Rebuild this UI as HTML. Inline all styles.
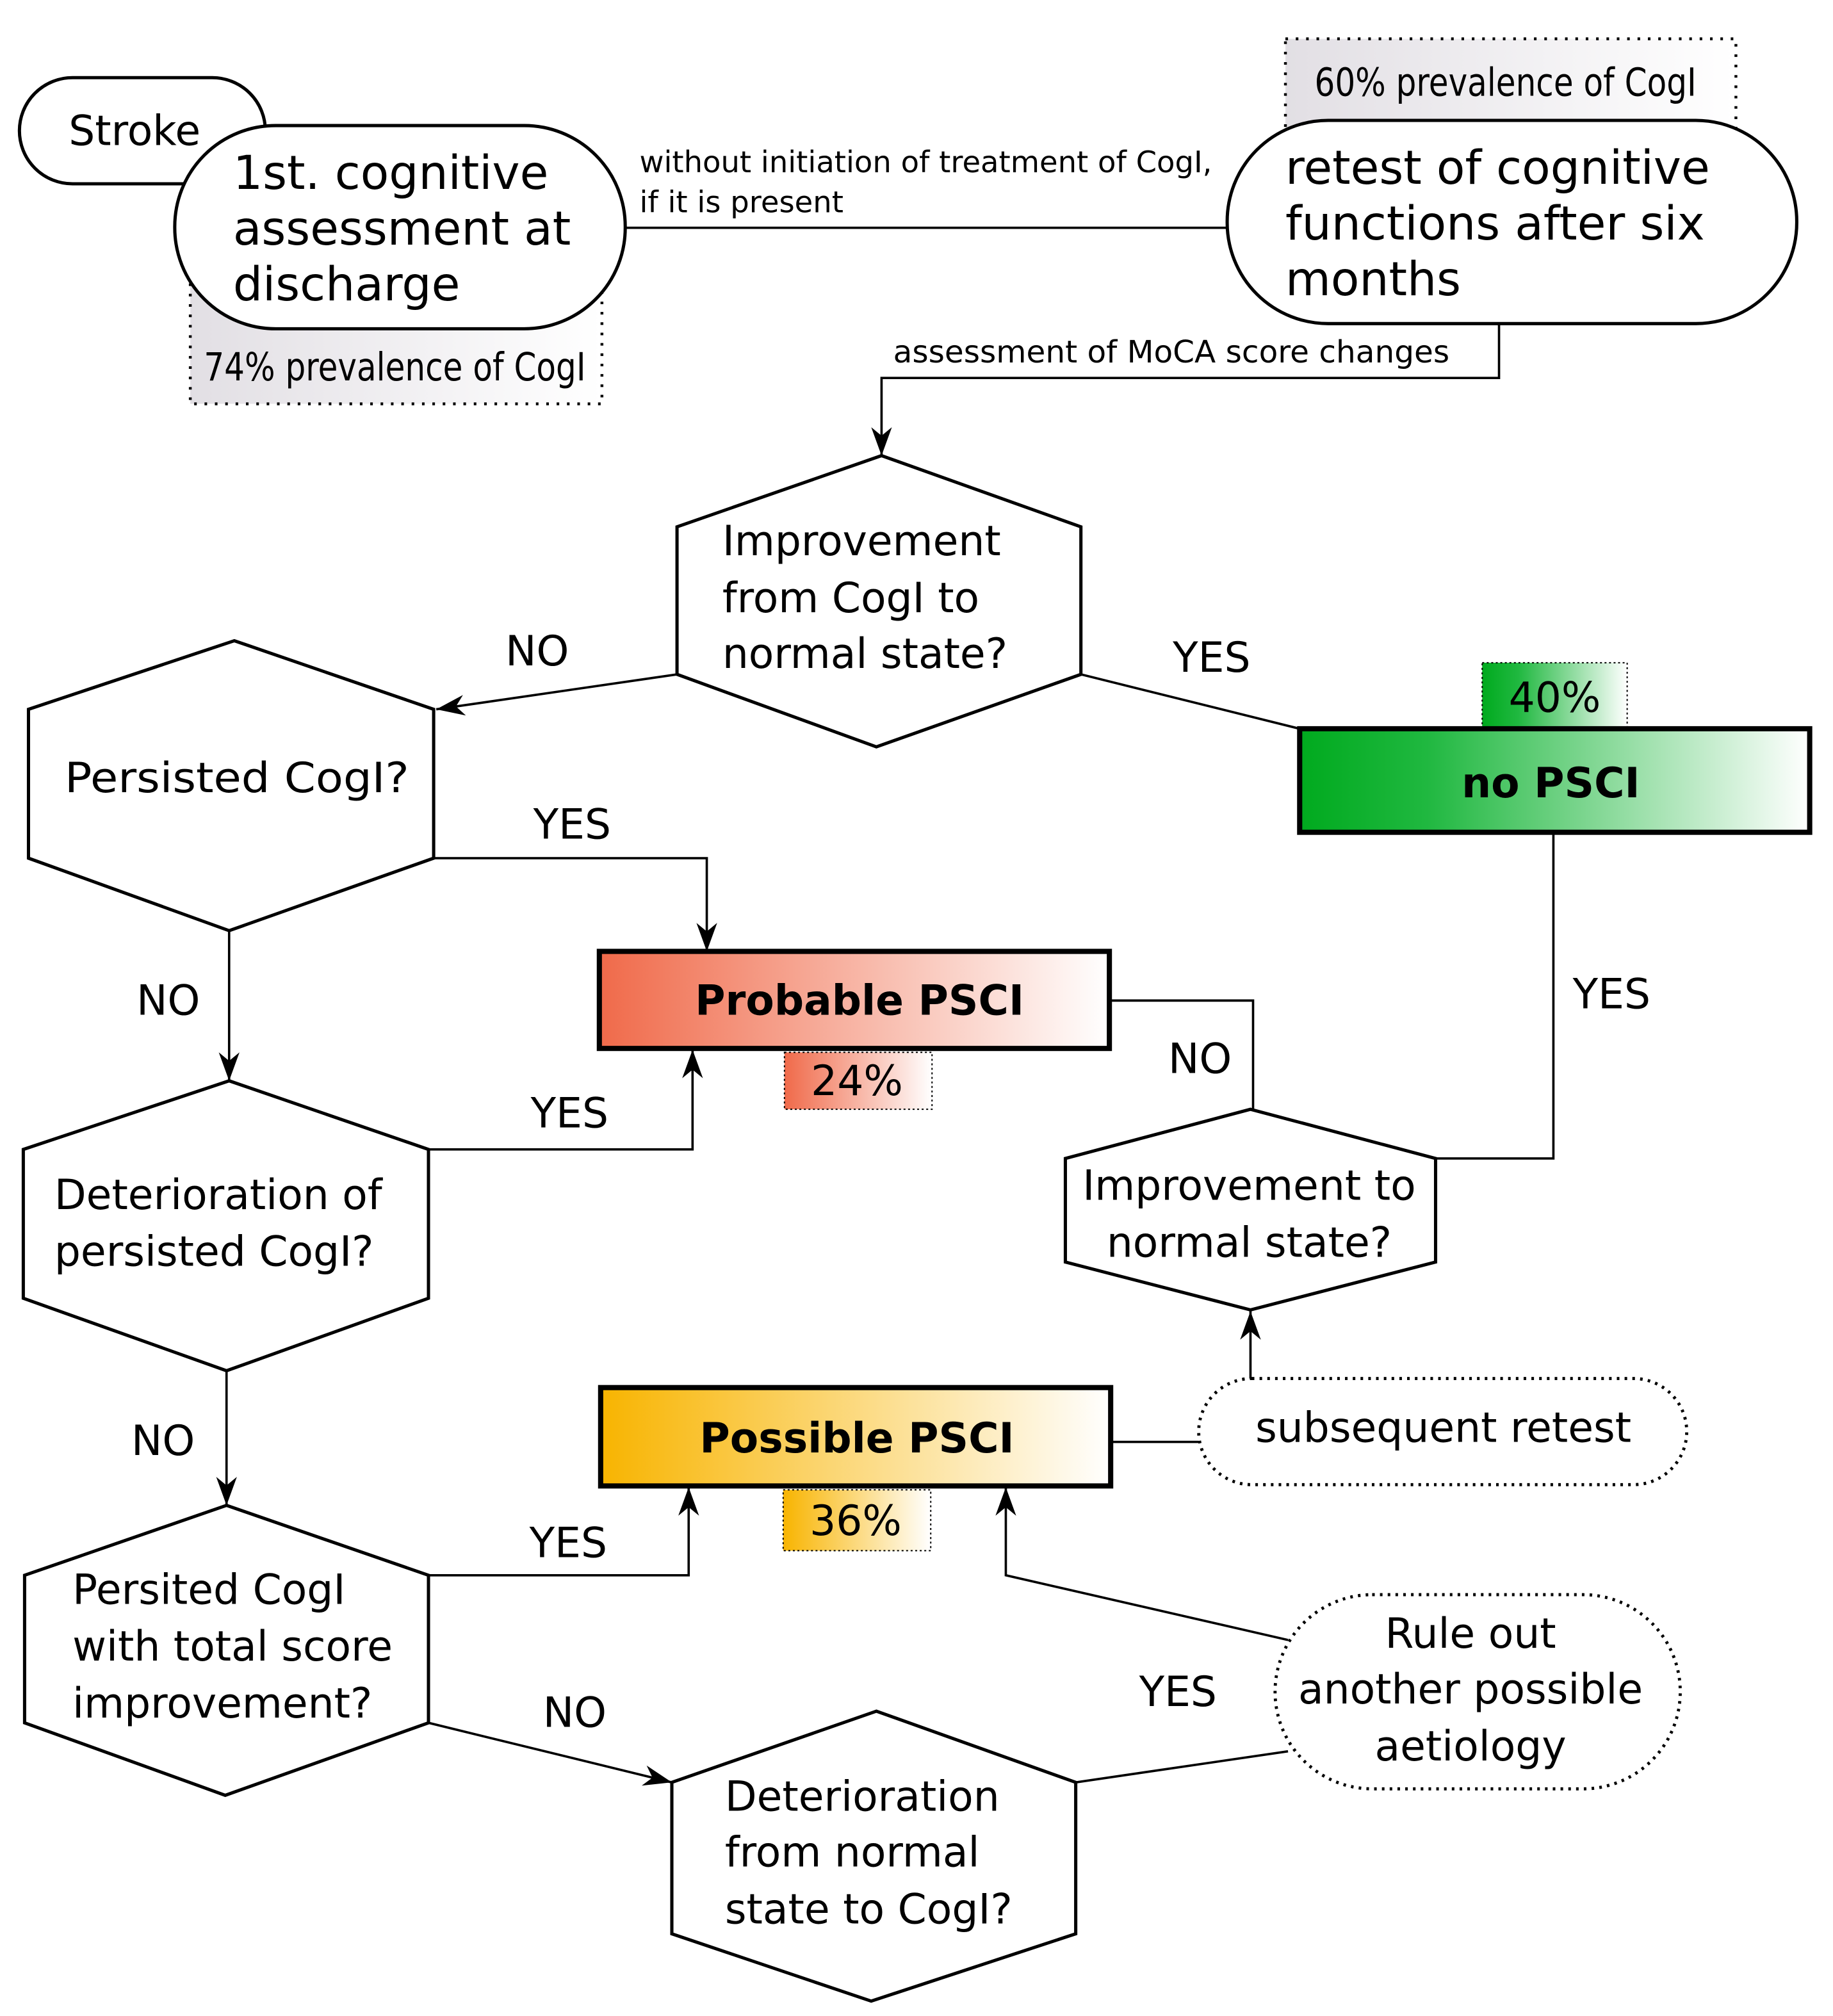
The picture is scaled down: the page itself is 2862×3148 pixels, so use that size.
<!DOCTYPE html>
<html><head><meta charset="utf-8"><style>
html,body{margin:0;padding:0;background:#fff;}
svg{display:block;}
text{font-family:"DejaVu Sans","Liberation Sans",sans-serif;fill:#000;}
.c{font-family:"DejaVu Sans Condensed","Liberation Sans Narrow","Liberation Sans",sans-serif;}
</style></head><body>
<svg width="2862" height="3148" viewBox="0 0 1416 1557.5" xmlns="http://www.w3.org/2000/svg">
<defs>
<linearGradient id="gg" x1="0" x2="1"><stop offset="0" stop-color="#e2dfe4"/><stop offset="1" stop-color="#fff"/></linearGradient>
<linearGradient id="gr" x1="0" x2="1"><stop offset="0" stop-color="#00aa1e"/><stop offset="0.25" stop-color="#20b840"/><stop offset="1" stop-color="#fff"/></linearGradient>
<linearGradient id="rd" x1="0" x2="1"><stop offset="0" stop-color="#f06a4a"/><stop offset="1" stop-color="#fff"/></linearGradient>
<linearGradient id="yl" x1="0" x2="1"><stop offset="0" stop-color="#f8b400"/><stop offset="1" stop-color="#fff"/></linearGradient>
<marker id="a" viewBox="0 0 10 10" refX="10" refY="5" markerWidth="22" markerHeight="16" markerUnits="userSpaceOnUse" orient="auto" preserveAspectRatio="none"><path d="M0,0 L10,5 L0,10 L3,5 z" fill="#000"/></marker>
</defs>
<g fill="none" stroke="#000" stroke-width="1.8">
<line x1="483" y1="176" x2="948" y2="176"/>
<polyline points="1158,250 1158,292 681,292 681,352" marker-end="url(#a)"/>
<line x1="523" y1="521" x2="337" y2="548" marker-end="url(#a)"/>
<line x1="835" y1="521" x2="1004" y2="563"/>
<polyline points="335,663 546,663 546,735" marker-end="url(#a)"/>
<line x1="177" y1="719" x2="177" y2="835" marker-end="url(#a)"/>
<polyline points="857,773 968,773 968,857"/>
<polyline points="1200,643 1200,895 1109,895"/>
<polyline points="331,888 535,888 535,811" marker-end="url(#a)"/>
<line x1="175" y1="1059" x2="175" y2="1163" marker-end="url(#a)"/>
<line x1="858" y1="1114" x2="926" y2="1114"/>
<line x1="966" y1="1065" x2="966" y2="1013" marker-end="url(#a)"/>
<polyline points="331,1217 532,1217 532,1149" marker-end="url(#a)"/>
<line x1="331" y1="1331" x2="519" y2="1377" marker-end="url(#a)"/>
<line x1="831" y1="1377" x2="995" y2="1353"/>
<polyline points="995,1267 777,1217 777,1149" marker-end="url(#a)"/>
</g>
<rect x="147" y="215" width="318" height="97" fill="url(#gg)" stroke="#000" stroke-width="2.2" stroke-dasharray="2,6"/>
<text class="c" x="305" y="294" font-size="30" text-anchor="middle" textLength="295" lengthAdjust="spacingAndGlyphs">74% prevalence of CogI</text>
<rect x="15" y="60" width="190" height="82" rx="41" fill="#fff" stroke="#000" stroke-width="2.5"/>
<text x="104" y="112" font-size="32" text-anchor="middle">Stroke</text>
<rect x="135" y="97" width="348" height="157" rx="78" fill="#fff" stroke="#000" stroke-width="2.5"/>
<text x="180" y="146" font-size="36">1st. cognitive</text>
<text x="180" y="189" font-size="36">assessment at</text>
<text x="180" y="232" font-size="36">discharge</text>
<text x="494" y="133" font-size="23">without initiation of treatment of CogI,</text>
<text x="494" y="164" font-size="23">if it is present</text>
<rect x="993" y="30" width="348" height="70" fill="url(#gg)" stroke="#000" stroke-width="2.2" stroke-dasharray="2,6"/>
<text class="c" x="1163" y="74" font-size="30" text-anchor="middle" textLength="295" lengthAdjust="spacingAndGlyphs">60% prevalence of CogI</text>
<rect x="948" y="93" width="440" height="157" rx="78" fill="#fff" stroke="#000" stroke-width="2.5"/>
<text x="993" y="142" font-size="36">retest of cognitive</text>
<text x="993" y="185" font-size="36">functions after six</text>
<text x="993" y="228" font-size="36">months</text>
<text x="690" y="280" font-size="24">assessment of MoCA score changes</text>
<g fill="#fff" stroke="#000" stroke-width="2.5">
<polygon points="681,352 835,407 835,521 677,577 523,521 523,407"/>
<polygon points="181,495 335,548 335,663 177,719 22,663 22,548"/>
<polygon points="966,857 1109,895 1109,975 966,1012 823,975 823,895"/>
<polygon points="177,835 331,888 331,1003 175,1059 18,1003 18,888"/>
<polygon points="175,1163 331,1217 331,1331 174,1387 19,1331 19,1217"/>
<polygon points="677,1322 831,1377 831,1494 673,1546 519,1494 519,1377"/>
</g>
<g font-size="32">
<text x="558" y="429">Improvement</text>
<text x="558" y="473">from CogI to</text>
<text x="558" y="516">normal state?</text>
<text x="50" y="612" textLength="266" lengthAdjust="spacingAndGlyphs">Persisted CogI?</text>
<text x="965" y="927" text-anchor="middle">Improvement to</text>
<text x="965" y="971" text-anchor="middle">normal state?</text>
<text x="42" y="934">Deterioration of</text>
<text x="42" y="978">persisted CogI?</text>
<text x="56" y="1239">Persited CogI</text>
<text x="56" y="1283">with total score</text>
<text x="56" y="1327">improvement?</text>
<text x="560" y="1399">Deterioration</text>
<text x="560" y="1442">from normal</text>
<text x="560" y="1486">state to CogI?</text>
<text x="415" y="514" text-anchor="middle">NO</text>
<text x="936" y="519" text-anchor="middle">YES</text>
<text x="442" y="648" text-anchor="middle">YES</text>
<text x="130" y="784" text-anchor="middle">NO</text>
<text x="927" y="829" text-anchor="middle">NO</text>
<text x="1245" y="779" text-anchor="middle">YES</text>
<text x="440" y="871" text-anchor="middle">YES</text>
<text x="126" y="1124" text-anchor="middle">NO</text>
<text x="439" y="1203" text-anchor="middle">YES</text>
<text x="444" y="1334" text-anchor="middle">NO</text>
<text x="910" y="1318" text-anchor="middle">YES</text>
</g>
<rect x="1145" y="512" width="112" height="50" fill="url(#gr)" stroke="#000" stroke-width="1" stroke-dasharray="1.5,2"/>
<text x="1201" y="550" font-size="32" text-anchor="middle">40%</text>
<rect x="1004" y="563" width="394" height="80" fill="url(#gr)" stroke="#000" stroke-width="4"/>
<text x="1198" y="616" font-size="32" font-weight="bold" text-anchor="middle">no PSCI</text>
<rect x="463" y="735" width="394" height="75" fill="url(#rd)" stroke="#000" stroke-width="4"/>
<text x="664" y="784" font-size="32" font-weight="bold" text-anchor="middle">Probable PSCI</text>
<rect x="606" y="813" width="114" height="44" fill="url(#rd)" stroke="#000" stroke-width="1" stroke-dasharray="1.5,2"/>
<text x="662" y="846" font-size="32" text-anchor="middle">24%</text>
<rect x="464" y="1072" width="394" height="76" fill="url(#yl)" stroke="#000" stroke-width="4"/>
<text x="662" y="1122" font-size="32" font-weight="bold" text-anchor="middle">Possible PSCI</text>
<rect x="605" y="1151" width="114" height="47" fill="url(#yl)" stroke="#000" stroke-width="1" stroke-dasharray="1.5,2"/>
<text x="661" y="1186" font-size="32" text-anchor="middle">36%</text>
<rect x="926" y="1065" width="377" height="82" rx="41" fill="#fff" stroke="#000" stroke-width="2.4" stroke-dasharray="2,4"/>
<text x="1115" y="1114" font-size="32" text-anchor="middle">subsequent retest</text>
<rect x="985" y="1232" width="313" height="150" rx="75" fill="#fff" stroke="#000" stroke-width="2.4" stroke-dasharray="2,4"/>
<text x="1136" y="1273" font-size="32" text-anchor="middle">Rule out</text>
<text x="1136" y="1316" font-size="32" text-anchor="middle">another possible</text>
<text x="1136" y="1360" font-size="32" text-anchor="middle">aetiology</text>
</svg>
</body></html>
